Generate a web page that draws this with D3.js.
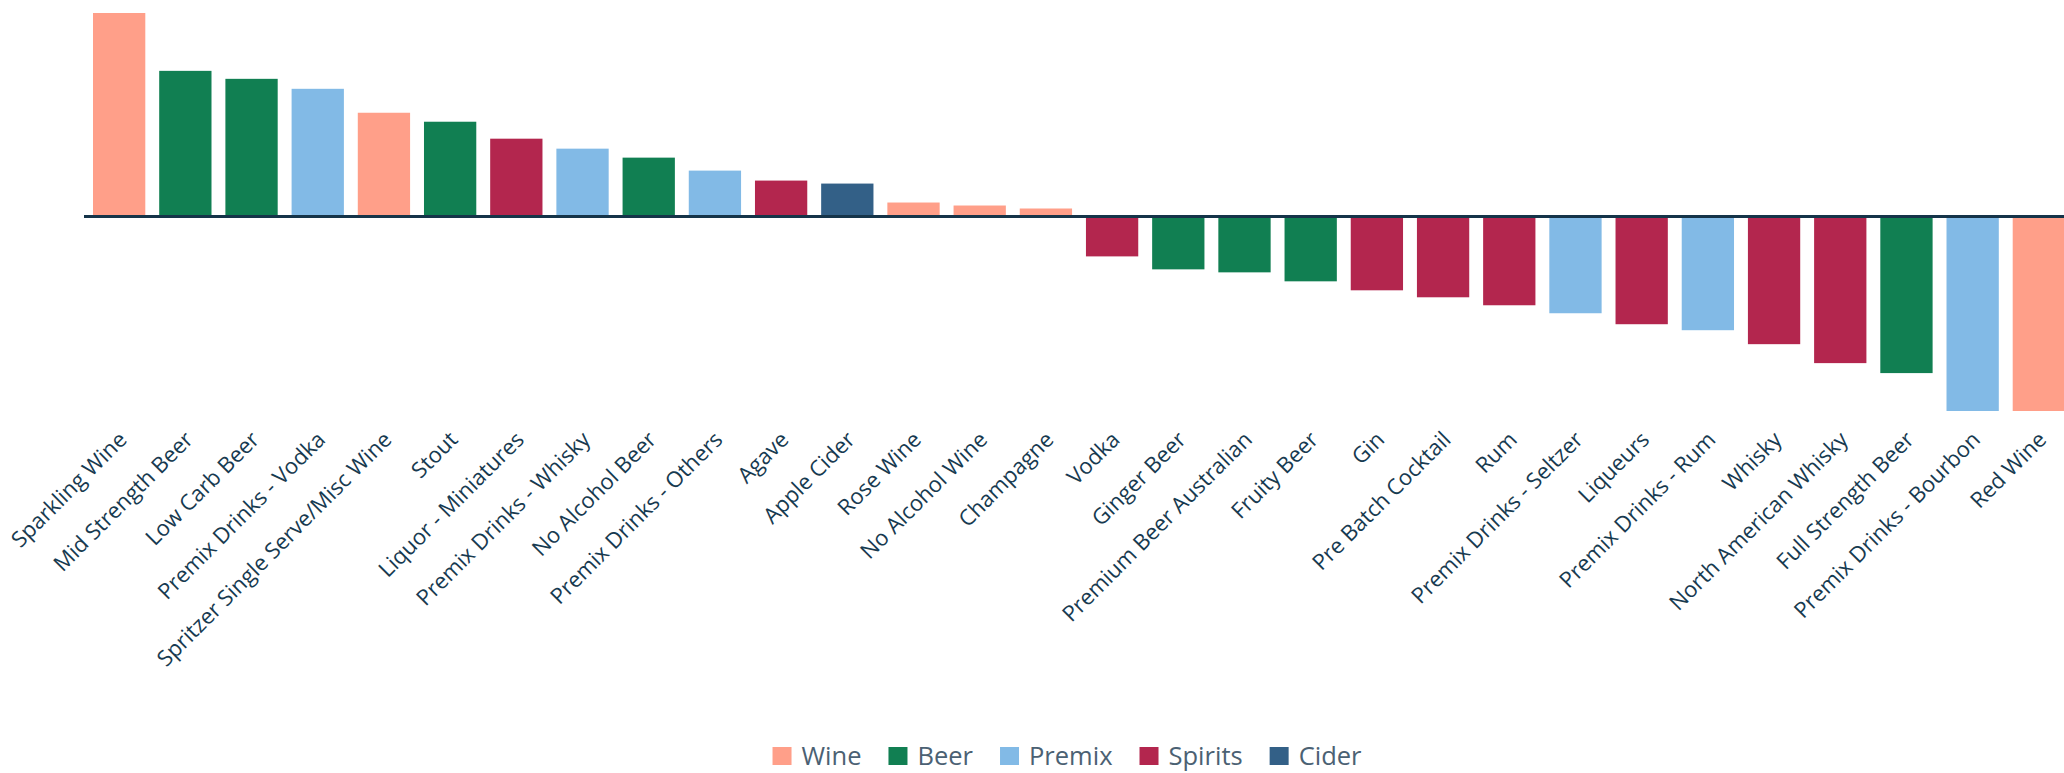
<!DOCTYPE html>
<html>
<head>
<meta charset="utf-8">
<script src="https://cdn.jsdelivr.net/npm/d3@7"></script>
<style>
  body { margin: 0; background: #fff; }
  svg { display: block; }
  .label { font-family: "Open Sans", sans-serif; font-size: 22px; fill: #173a50; }
  .legend text { font-family: "Open Sans", sans-serif; font-size: 25.5px; fill: #4b6173; }
</style>
</head>
<body>
<div id="chart"></div>
<script>
var categories = [
  "Sparkling Wine", "Mid Strength Beer", "Low Carb Beer", "Premix Drinks - Vodka",
  "Spritzer Single Serve/Misc Wine", "Stout", "Liquor - Miniatures", "Premix Drinks - Whisky",
  "No Alcohol Beer", "Premix Drinks - Others", "Agave", "Apple Cider", "Rose Wine",
  "No Alcohol Wine", "Champagne", "Vodka", "Ginger Beer", "Premium Beer Australian",
  "Fruity Beer", "Gin", "Pre Batch Cocktail", "Rum", "Premix Drinks - Seltzer", "Liqueurs",
  "Premix Drinks - Rum", "Whisky", "North American Whisky", "Full Strength Beer",
  "Premix Drinks - Bourbon", "Red Wine"
];

var groups = [
  "Wine", "Beer", "Beer", "Premix", "Wine", "Beer", "Spirits", "Premix",
  "Beer", "Premix", "Spirits", "Cider", "Wine", "Wine", "Wine",
  "Spirits", "Beer", "Beer", "Beer", "Spirits", "Spirits", "Spirits", "Premix", "Spirits",
  "Premix", "Spirits", "Spirits", "Beer", "Premix", "Wine"
];

var values = [
  20.4, 14.6, 13.8, 12.8, 10.4, 9.5, 7.8, 6.8, 5.9, 4.6, 3.6, 3.3, 1.4, 1.1, 0.8,
  -4.0, -5.3, -5.6, -6.5, -7.4, -8.1, -8.9, -9.7, -10.8, -11.4, -12.8, -14.7, -15.7, -19.5, -19.5
];

var legendKeys = ["Wine", "Beer", "Premix", "Spirits", "Cider"];
var legendColors = ["#ff9f89", "#117f52", "#82bae6", "#b3264e", "#336087"];

var width = 2064,
  height = 773;

var data = categories.map(function(c, i) {
  return { name: c, group: groups[i], value: values[i] };
});

var color = d3.scaleOrdinal()
  .domain(legendKeys)
  .range(legendColors);

var x = d3.scaleBand()
  .domain(categories)
  .range([84, 2074])
  .paddingInner(0.21)
  .paddingOuter(0.136);

var y = d3.scaleLinear()
  .domain([d3.min(values), d3.max(values)])
  .range([411, 13]);

var svg = d3.select("#chart").append("svg")
  .attr("width", width)
  .attr("height", height);

// bars
svg.append("g").selectAll("rect")
  .data(data)
  .enter().append("rect")
  .attr("x", function(d) { return x(d.name); })
  .attr("width", x.bandwidth())
  .attr("y", function(d) { return d.value >= 0 ? y(d.value) : y(0); })
  .attr("height", function(d) { return Math.abs(y(d.value) - y(0)); })
  .style("fill", function(d) { return color(d.group); });

// zero line
svg.append("line")
  .attr("x1", 84)
  .attr("x2", width)
  .attr("y1", y(0))
  .attr("y2", y(0))
  .style("stroke", "#153449")
  .style("stroke-width", 3);

// rotated category labels
svg.append("g").selectAll("text")
  .data(data)
  .enter().append("text")
  .attr("class", "label")
  .attr("text-anchor", "end")
  .attr("transform", function(d) {
    return "translate(" + (x(d.name) + x.bandwidth() / 2 + 9) + ",441) rotate(-45)";
  })
  .text(function(d) { return d.name; });

// legend
var legend = svg.append("g").attr("class", "legend");
var item = legend.selectAll("g")
  .data(legendKeys)
  .enter().append("g");

item.append("rect")
  .attr("width", 19)
  .attr("height", 18)
  .attr("y", 747)
  .style("fill", function(d) { return color(d); });

item.append("text")
  .attr("x", 29)
  .attr("y", 765)
  .text(function(d) { return d; });

var offsets = [], total = 0;
item.each(function() {
  var w = 29 + this.querySelector("text").getComputedTextLength();
  offsets.push(total);
  total += w + 27;
});
total -= 27;
var start = 1067 - total / 2;
item.attr("transform", function(d, i) { return "translate(" + (start + offsets[i]) + ",0)"; });
</script>
</body>
</html>
